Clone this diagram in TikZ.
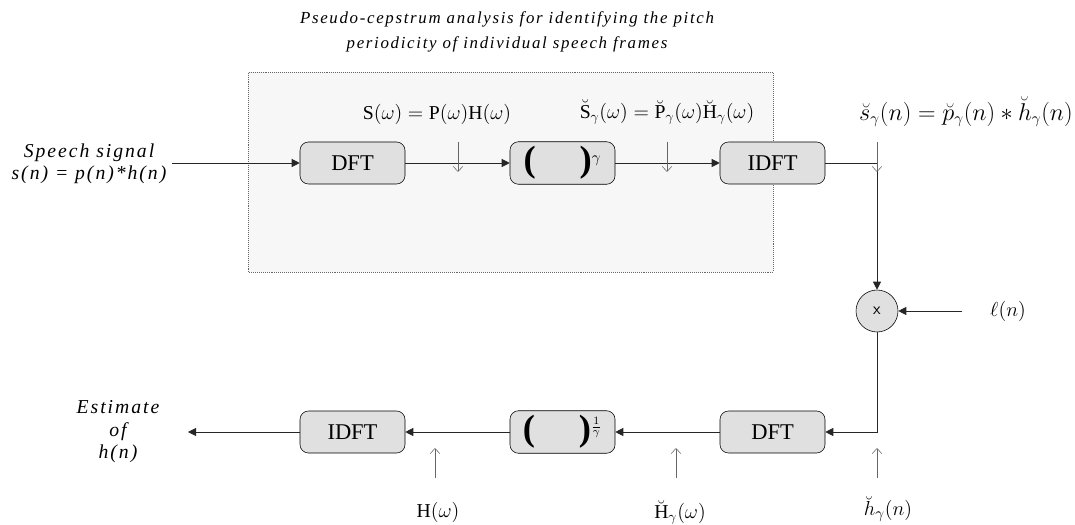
\documentclass[tikz,border=0pt]{standalone}
\usepackage{fontspec}
\setmainfont{Liberation Serif}[ItalicFont={Liberation Serif Italic},BoldFont={Liberation Serif Bold}]
\newfontfamily\spacedit{Liberation Serif Italic}[LetterSpace=10]
\newfontfamily\plainit{Liberation Serif Italic}
\usetikzlibrary{arrows.meta}

\tikzset{
  block/.style={draw,rounded corners=6pt,fill=black!12,minimum width=2.625cm,
    minimum height=1.05cm,font=\fontsize{16}{18}\selectfont},
  hint/.style={black!60,-{Straight Barb[length=1.3mm,width=2.4mm]}},
  label/.style={font=\fontsize{14}{16}\selectfont},
}
\newcommand{\powbox}[1]{{\bfseries\fontsize{26}{26}\selectfont(\hspace{1.2em})}#1}

\begin{document}
\begin{tikzpicture}[>={Triangle[length=2mm,width=2mm]}]
  \useasboundingbox (0,0) rectangle (26.875,13.1);

  % analysis part
  \draw[densely dotted,black!60,fill=black!3] (6.2,6.3) rectangle (19.325,11.3);
  \node[font=\fontsize{12}{18}\spacedit,align=center] (title) at (12.675,12.3)
    {Pseudo-cepstrum analysis for identifying the pitch\\periodicity of individual speech frames};

  \begin{scope}[every node/.style={block}]
    \node (dft1)  at (8.8125,9.025)  {DFT};
    \node (pow1)  at (14.0625,9.025) {\powbox{$^{\gamma}$}};
    \node (idft1) at (19.3125,9.025) {IDFT};
    \node (dft2)  at (19.3125,2.3)   {DFT};
    \node (pow2)  at (14.0625,2.3)   {\powbox{$^{\frac{1}{\gamma}}$}};
    \node (idft2) at (8.8125,2.3)    {IDFT};
  \end{scope}
  \node[circle,draw,fill=black!12,minimum size=1.05cm,font=\sffamily\large] (mult) at (21.925,5.325) {x};

  % inputs and output
  \node[label,align=center] (speech) at (2.225,9.0)
    {{\spacedit Speech signal}\\{\spacedit s(n) = p(n)*h(n)}};
  \node[label,align=center] (est) at (2.95,2.3)
    {{\spacedit Estimate}\\{\spacedit of}\\{\spacedit h(n)}};
  \node[label] (ell) at (25.2,5.325) {$\ell(n)$};
  \coordinate (in)  at (4.3,9.025);
  \coordinate (out) at (4.7,2.3);
  \coordinate (lin) at (24.05,5.325);

  \begin{scope}[black!85,semithick]
    \draw[->] (in) -- (dft1);
    \draw[->] (dft1) -- (pow1);
    \draw[->] (pow1) -- (idft1);
    \draw[->] (idft1) -| (mult);
    \draw[->] (lin) -- (mult);
    \draw[->] (mult) |- (dft2);
    \draw[->] (dft2) -- (pow2);
    \draw[->] (pow2) -- (idft2);
    \draw[->] (idft2) -- (out);
  \end{scope}

  % signal names
  \node[label] (s1) at (10.925,10.25) {$\mathrm{S}(\omega)=\mathrm{P}(\omega)\mathrm{H}(\omega)$};
  \node[label] (s2) at (16.675,10.3)
    {$\breve{\mathrm{S}}_{\gamma}(\omega)=\breve{\mathrm{P}}_{\gamma}(\omega)\breve{\mathrm{H}}_{\gamma}(\omega)$};
  \node[label,font=\fontsize{16}{18}\selectfont] (s3) at (24.15,10.3)
    {$\breve{s}_{\gamma}(n)=\breve{p}_{\gamma}(n)*\breve{h}_{\gamma}(n)$};
  \node[label] (h1) at (10.95,0.3) {$\mathrm{H}(\omega)$};
  \node[label] (h2) at (17.0,0.3)  {$\breve{\mathrm{H}}_{\gamma}(\omega)$};
  \node[label,font=\fontsize{15}{17}\selectfont] (h3) at (22.2,0.38) {$\breve{h}_{\gamma}(n)$};

  \foreach \x/\n in {11.45/a,16.675/b,21.925/c}{
    \coordinate (top\n) at (\x,9.55);
    \coordinate (bot\n) at (\x,8.8);
    \draw[hint] (top\n) -- (bot\n);
  }
  \foreach \x/\n in {10.875/a,16.9/b,21.925/c}{
    \coordinate (low\n) at (\x,1.15);
    \coordinate (high\n) at (\x,1.9);
    \draw[hint] (low\n) -- (high\n);
  }
\end{tikzpicture}
\end{document}
